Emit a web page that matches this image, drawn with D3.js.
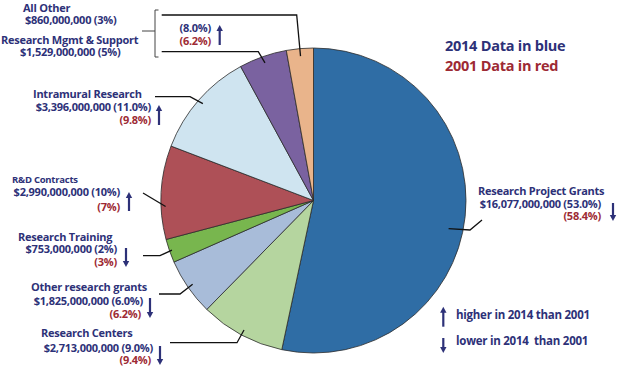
<!DOCTYPE html>
<html>
<head>
<meta charset="utf-8">
<script src="https://cdn.jsdelivr.net/npm/d3@7"></script>
<style>
  body { margin: 0; background: #fff; }
  text { font-family: "Open Sans", Lato, sans-serif; font-weight: 700; letter-spacing: -0.25px; }
</style>
</head>
<body>
<div id="chart"></div>
<script>
// NIH budget by mechanism, 2014 vs 2001
const categories = ["Research Project Grants", "Research Centers", "Other research grants", "Research Training",
  "R&D Contracts", "Intramural Research", "Research Mgmt & Support", "All Other"];
const dollars2014 = [16077000000, 2713000000, 1825000000, 753000000, 2990000000, 3396000000, 1529000000, 860000000];
const pct2014 = ["53.0%", "9.0%", "6.0%", "2%", "10%", "11.0%", "5%", "3%"];
const pct2001 = ["58.4%", "9.4%", "6.2%", "3%", "7%", "9.8%", null, null];
// Mgmt & Support + All Other are compared as one group
const combined2014 = "8.0%", combined2001 = "6.2%";
const sliceColors = ["#2f6da5", "#b5d59f", "#a8bcd9", "#78b64e", "#ae5057", "#cfe4f0", "#7a62a0", "#e9b48b"];

const navy = "#2d3178", red = "#9d2a34";
const width = 617, height = 368;
const cx = 313.5, cy = 200.5, radius = 152.5;
const fs = 11;

const svg = d3.select("#chart").append("svg")
  .attr("width", width).attr("height", height);

const pie = d3.pie().sort(null).value(d => d);
const arcs = pie(dollars2014);
const arc = d3.arc().innerRadius(0).outerRadius(radius);

const g = svg.append("g").attr("transform", `translate(${cx},${cy})`);
g.selectAll("path").data(arcs).join("path")
  .attr("d", arc)
  .attr("fill", (d, i) => sliceColors[i])
  .attr("stroke", "#2b2b2b")
  .attr("stroke-width", 0.8);

// point inside a slice, at radius r and fraction f of its angular span
function slicePoint(d, r, f) {
  const a = d.startAngle + (d.endAngle - d.startAngle) * f;
  return [cx + r * Math.sin(a), cy - r * Math.cos(a)];
}

const fmt = d3.format("$,");
const num = s => parseFloat(s);

// label layout (positions only)
const layout = [
  {title: [478, 195], val: [601, 207.5], old: [601, 220], arrow: [613, 203, 221], r: 138, f: 0.53, leader: [[470, 230], [482, 220]]},
  {title: [41, 337], val: [153, 351.5], old: [151, 364], arrow: [160, 346, 365], r: 147, f: 0.5, leader: [[237, 342.7], [170, 342.7]]},
  {title: [31, 291], val: [143, 305], old: [141, 317.5], arrow: [150, 298, 318], r: 147, f: 0.5, leader: [[180, 294], [159, 294]]},
  {title: [18, 241], val: [117, 253], old: [117, 266], arrow: [126, 248, 267], r: 150, f: 0.5, leader: [[160, 255.7], [143, 255.7]]},
  {title: [12, 183], val: [120, 196], old: [120, 210.5], arrow: [129, 192, 211], r: 148, f: 0.35, leader: [[143, 193]], small: true},
  {title: [33, 97.5], val: [151, 110.5], old: [151, 123.5], arrow: [159, 105, 125], r: 147, f: 0.5, leader: [[190, 96.7], [155, 96.7]]},
  {title: [1, 43.5], val: [20, 55.5], r: 146, f: 0.5, leader: [[258.3, 51.7], [161.7, 51.7]]},
  {title: [23, 11.5], val: [25, 23.5], r: 145, f: 0.5, leader: [[296.7, 15], [161.7, 15]]}
];

function arrow(sel, x, y1, y2, up) {
  const head = 6, hw = 3.2;
  const tip = up ? y1 : y2, tail = up ? y2 : y1;
  const dir = up ? 1 : -1;
  sel.append("line")
    .attr("x1", x).attr("x2", x)
    .attr("y1", tail).attr("y2", tip + dir * (head - 1))
    .attr("stroke", navy).attr("stroke-width", 2.2);
  sel.append("path")
    .attr("d", `M${x},${tip} L${x - hw},${tip + dir * head} L${x + hw},${tip + dir * head} Z`)
    .attr("fill", navy);
}

const labels = svg.append("g");
const leaderLine = d3.line();

categories.forEach((name, i) => {
  const L = layout[i];
  const anchor = slicePoint(arcs[i], L.r, L.f);
  labels.append("path")
    .attr("d", leaderLine([anchor, ...L.leader]))
    .attr("fill", "none").attr("stroke", "#111").attr("stroke-width", 1.3);

  labels.append("text")
    .attr("x", L.title[0]).attr("y", L.title[1])
    .attr("font-size", L.small ? 9.5 : fs)
    .attr("fill", navy)
    .text(name);

  const grouped = pct2001[i] == null;
  labels.append("text")
    .attr("x", L.val[0]).attr("y", L.val[1])
    .attr("text-anchor", grouped ? "start" : "end")
    .attr("font-size", fs)
    .attr("fill", navy)
    .text(`${fmt(dollars2014[i])} (${pct2014[i]})`);

  if (!grouped) {
    labels.append("text")
      .attr("x", L.old[0]).attr("y", L.old[1])
      .attr("text-anchor", "end")
      .attr("font-size", fs)
      .attr("fill", red)
      .text(`(${pct2001[i]})`);
    arrow(labels.append("g"), L.arrow[0], L.arrow[1], L.arrow[2], num(pct2014[i]) > num(pct2001[i]));
  }
});

// bracket for the two grouped slices
labels.append("path")
  .attr("d", "M158.5,10 H155 V57 H158.5 M142,31 H155")
  .attr("fill", "none").attr("stroke", "#444").attr("stroke-width", 1);
labels.append("text").attr("x", 211).attr("y", 32).attr("text-anchor", "end")
  .attr("font-size", fs).attr("fill", navy).text(`(${combined2014})`);
labels.append("text").attr("x", 211).attr("y", 44.5).attr("text-anchor", "end")
  .attr("font-size", fs).attr("fill", red).text(`(${combined2001})`);
arrow(labels.append("g"), 219.7, 25, 45, num(combined2014) > num(combined2001));

// legends
svg.append("text").attr("x", 445).attr("y", 51).attr("font-size", 14.5).attr("fill", navy).text("2014 Data in blue");
svg.append("text").attr("x", 445).attr("y", 71).attr("font-size", 14.5).attr("fill", red).text("2001 Data in red");

arrow(svg.append("g"), 443.3, 306.7, 326.7, true);
arrow(svg.append("g"), 443.3, 338, 353, false);
svg.append("text").attr("x", 456).attr("y", 319).attr("font-size", 11.5).attr("fill", navy).text("higher in 2014 than 2001");
svg.append("text").attr("x", 456).attr("y", 345).attr("font-size", 11.5).attr("fill", navy)
  .attr("xml:space", "preserve").style("white-space", "pre").text("lower in 2014  than 2001");
</script>
</body>
</html>
